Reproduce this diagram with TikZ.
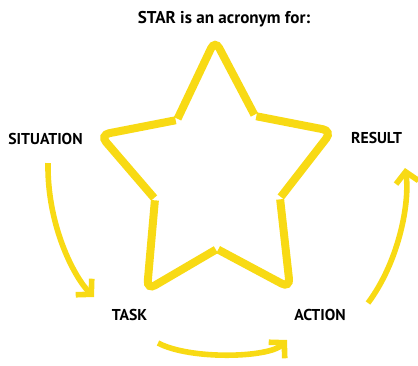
\documentclass[tikz,border=0pt]{standalone}
\usepackage{fontspec}
\setmainfont{PT Sans}
\usetikzlibrary{calc,arrows.meta}
\definecolor{starYellow}{RGB}{248,218,20}
\tikzset{
	starLine/.style={draw=starYellow,line width=6pt,rounded corners=7pt,line cap=butt},
	cycleArrow/.style={draw=starYellow,line width=4.2pt,-{Straight Barb[length=8pt,width=17pt]}},
	stepLabel/.style={anchor=base,inner sep=0.75pt,font=\fontsize{11.8}{14}\selectfont\bfseries}
}
\begin{document}
\begin{tikzpicture}[x=0.75pt,y=0.75pt,yscale=-1,xscale=1]
	\useasboundingbox (0,0) rectangle (418,365);
	
	% star points and inner corners
	\coordinate (pTop) at (215,40);
	\coordinate (pRight) at (332,131);
	\coordinate (pBR) at (290,288);
	\coordinate (pBL) at (147,290);
	\coordinate (pLeft) at (100,135);
	\coordinate (iUR) at (255,116);
	\coordinate (iLR) at (280,198);
	\coordinate (iB) at (217,249);
	\coordinate (iLL) at (155,199);
	\coordinate (iUL) at (177,120);
	
	%Shape: Star [five strokes with gaps]
	\draw [starLine] ($(iUL)!1pt!(pTop)$) -- (pTop) -- ($(iUR)!1pt!(pTop)$);
	\draw [starLine] ($(iUR)!1pt!(pRight)$) -- (pRight) -- ($(iLR)!1pt!(pRight)$);
	\draw [starLine] ($(iLR)!1pt!(pBR)$) -- (pBR) -- ($(iB)!1pt!(pBR)$);
	\draw [starLine] ($(iB)!1pt!(pBL)$) -- (pBL) -- ($(iLL)!1pt!(pBL)$);
	\draw [starLine] ($(iLL)!1pt!(pLeft)$) -- (pLeft) -- ($(iUL)!1pt!(pLeft)$);
	
	% Text Node
	\node [stepLabel,font=\fontsize{12.8}{15}\selectfont\bfseries] (title) at (224,23) {STAR is an acronym for:};
	% Text Node
	\node [stepLabel] (situation) at (45.5,144) {SITUATION};
	% Text Node
	\node [stepLabel] (result) at (376.5,143) {RESULT};
	% Text Node
	\node [stepLabel] (task) at (129.5,320) {TASK};
	% Text Node
	\node [stepLabel] (action) at (320,320) {ACTION};
	
	% arrow ends
	\coordinate (sitFrom) at (48,163);
	\coordinate (sitTo) at (94,297);
	\coordinate (taskFrom) at (158,343);
	\coordinate (taskTo) at (287,340);
	\coordinate (actFrom) at (368,303);
	\coordinate (actTo) at (405,168);
	
	%Curve Lines
	\draw [cycleArrow] (sitFrom) .. controls (47,225) and (74,277) .. (sitTo);
	%Curve Lines
	\draw [cycleArrow] (taskFrom) .. controls (190,360) and (269,358) .. (taskTo);
	%Curve Lines
	\draw [cycleArrow] (actFrom) .. controls (400,260) and (410,200) .. (actTo);
	
\end{tikzpicture}
\end{document}
